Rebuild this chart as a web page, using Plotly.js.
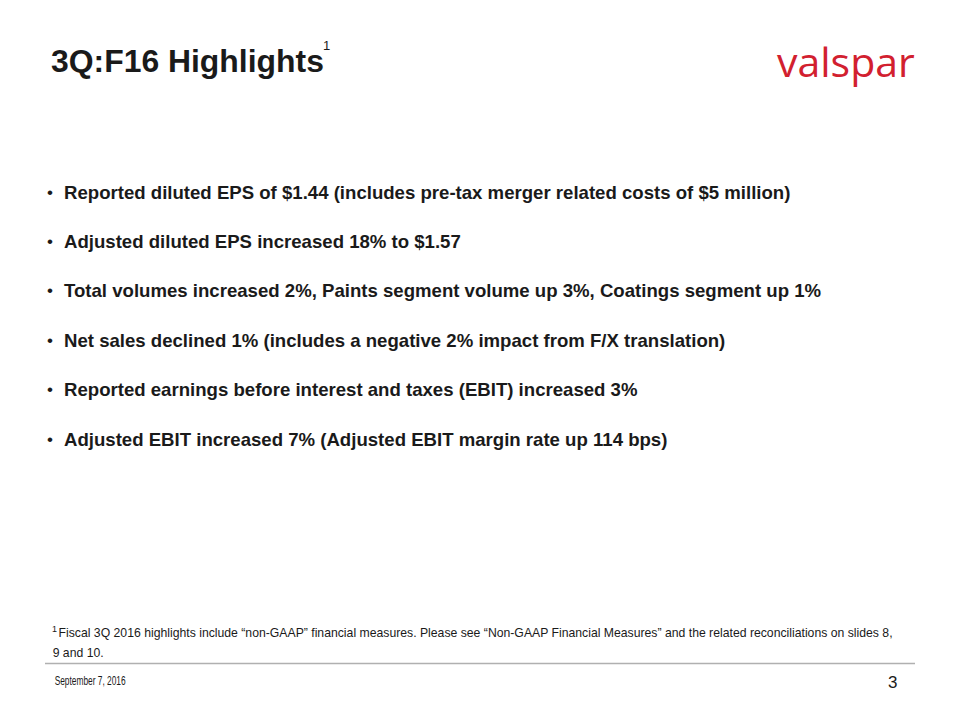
<!DOCTYPE html>
<html><head><meta charset="utf-8">
<script src="https://cdn.plot.ly/plotly-3.0.1.min.js"></script>
<style>html,body{margin:0;padding:0;background:#fff;}#chart{width:960px;height:720px;}</style>
</head><body><div id="chart"></div>
<script>
const titleText = "3Q:F16 Highlights";
const titleSup = "1";
const logoText = "valspar";
const bullets = [
  "Reported diluted EPS of $1.44 (includes pre-tax merger related costs of $5 million)",
  "Adjusted diluted EPS increased 18% to $1.57",
  "Total volumes increased 2%, Paints segment volume up 3%, Coatings segment up 1%",
  "Net sales declined 1% (includes a negative 2% impact from F/X translation)",
  "Reported earnings before interest and taxes (EBIT) increased 3%",
  "Adjusted EBIT increased 7% (Adjusted EBIT margin rate up 114 bps)"
];
const footnoteMark = "1";
const footnoteLines = [
  "Fiscal 3Q 2016 highlights include \u201cnon-GAAP\u201d financial measures. Please see \u201cNon-GAAP Financial Measures\u201d and the related reconciliations on slides 8,",
  "9 and 10."
];
const footerDate = "September 7, 2016";
const pageNumber = "3";

// narrow-font texts: left edge and target width (px)
const narrowSpecs = [
  {text: footnoteLines[0], left: 58, width: 834, y: 632, size: 13},
  {text: footnoteLines[1], left: 52, width: 51, y: 652, size: 13.5},
  {text: footerDate, left: 54, width: 71, y: 681, size: 12.5}
];

const ann = [];
const base = {xref:'x', yref:'y', showarrow:false};
const sans = 'Liberation Sans, Arial, sans-serif';
ann.push(Object.assign({}, base, {x:49, y:61, xanchor:'left', yanchor:'middle',
  text:'<b>'+titleText+'</b>', font:{family:sans, size:31.9, color:'#1a1a1a'}}));
ann.push(Object.assign({}, base, {x:321, y:45, xanchor:'left', yanchor:'middle',
  text:titleSup, font:{family:sans, size:13, color:'#1a1a1a'}}));
ann.push(Object.assign({}, base, {x:775, y:61, xanchor:'left', yanchor:'middle',
  text:logoText, font:{family:'Open Sans, sans-serif', size:41, color:'#d2202f'}}));
bullets.forEach((b,i)=>{
  const y = 192 + i*49.4;
  ann.push(Object.assign({}, base, {x:45, y:y, xanchor:'left', yanchor:'middle',
    text:'\u2022', font:{family:sans, size:17, color:'#1a1a1a'}}));
  ann.push(Object.assign({}, base, {x:62, y:y, xanchor:'left', yanchor:'middle',
    text:'<b>'+b+'</b>', font:{family:sans, size:18.6, color:'#1a1a1a'}}));
});
ann.push(Object.assign({}, base, {x:50, y:629, xanchor:'left', yanchor:'middle',
  text:footnoteMark, font:{family:sans, size:9, color:'#1a1a1a'}}));
narrowSpecs.forEach(s=>{
  ann.push(Object.assign({}, base, {x:s.left + s.width/2, y:s.y, xanchor:'center', yanchor:'middle',
    text:s.text, font:{family:sans, size:s.size, color:'#1a1a1a'}}));
});
ann.push(Object.assign({}, base, {x:899, y:682, xanchor:'right', yanchor:'middle',
  text:pageNumber, font:{family:sans, size:17, color:'#1a1a1a'}}));

const layout = {
  width:960, height:720, margin:{l:0,r:0,t:0,b:0},
  paper_bgcolor:'#ffffff', plot_bgcolor:'#ffffff',
  xaxis:{range:[0,960], visible:false, fixedrange:true},
  yaxis:{range:[720,0], visible:false, fixedrange:true},
  showlegend:false,
  annotations: ann,
  shapes:[
    {type:'line', xref:'x', yref:'y', x0:45, x1:915, y0:663.5, y1:663.5, line:{color:'#b0b0b0', width:1.5}}
  ]
};
Plotly.newPlot('chart', [], layout, {staticPlot:true, displayModeBar:false}).then(()=>{
  document.querySelectorAll('#chart text.annotation-text').forEach(el=>{
    const s = narrowSpecs.find(n => n.text === el.textContent);
    if (s) {
      el.setAttribute('textLength', s.width);
      el.setAttribute('lengthAdjust', 'spacingAndGlyphs');
    }
  });
});
</script></body></html>
